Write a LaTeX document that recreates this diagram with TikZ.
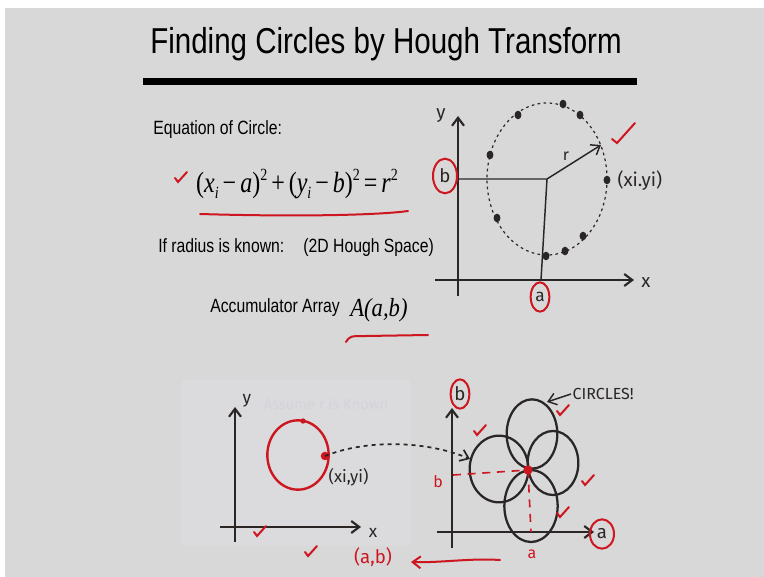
\documentclass[tikz,border=0pt]{standalone}
\usepackage{fontspec}
\setmainfont{Liberation Sans}[FakeStretch=0.82]
\newfontfamily\eqfont{Liberation Serif}
\newfontfamily\handfont{Fira Sans}
\usetikzlibrary{arrows.meta, positioning}
\definecolor{slidebg}{RGB}{216,216,216}
\definecolor{paperbg}{RGB}{219,219,221}
\definecolor{ghost}{RGB}{211,212,219}
\definecolor{ink}{RGB}{42,38,38}
\definecolor{redpen}{RGB}{205,22,32}
% handwritten check mark, #1 = lower left point
\newcommand{\tick}[1]{%
\draw[redline] #1 ++(0,-3) -- ++(3,4) -- ++(9,-10);
}

\begin{document}
\begin{tikzpicture}[
    x=0.75pt, y=-0.75pt,
    >={Straight Barb[length=6pt,width=9pt]},
    axis/.style={ink, line width=1.6pt},
    thinline/.style={ink, line width=1.1pt},
    redline/.style={redpen, line width=1.5pt, line cap=round},
    dotcircle/.style={ink, line width=0.9pt, dash pattern=on 2pt off 2.5pt},
    dashline/.style={ink, line width=1.3pt, dash pattern=on 3pt off 3pt},
    reddash/.style={redpen, line width=1.2pt, dash pattern=on 6pt off 5pt},
    flower/.style={ink, line width=1.7pt},
    hand/.style={font=\handfont\fontsize{11}{12}\selectfont, text=ink, inner sep=1pt},
    redhand/.style={font=\handfont\fontsize{11}{12}\selectfont, text=redpen, inner sep=1pt},
    body/.style={font=\fontsize{14.4}{16}\selectfont, text=black, inner sep=0pt}
]
\useasboundingbox (0,0) rectangle (764,577);
\fill[white] (0,0) rectangle (764,577);
\fill[slidebg] (5,8) rectangle (764,577);
\fill[paperbg] (182,380) rectangle (410,546);
\node[text=ghost, font=\handfont\fontsize{11}{13}\selectfont] (ghosttext) at (326,404) {Assume r is Known};

% title
\node[font=\fontsize{27}{30}\selectfont] (title) at (386,44) {Finding Circles by Hough Transform};
\fill[black] (143,78) rectangle (637,85);

% left text
\node[body, anchor=west] (eqhead) at (153,130) {Equation of Circle:};
\node[font=\eqfont\fontsize{18}{21}\selectfont, inner sep=0pt] (eqn) at (297,184)
  {\scalebox{1}[1.22]{(\textit{x}\raisebox{-0.45ex}{\fontsize{10.5}{12}\selectfont\textit{i}}\,−\,\textit{a})\raisebox{0.9ex}{\fontsize{10.5}{12}\selectfont 2}\,+\,(\textit{y}\raisebox{-0.45ex}{\fontsize{10.5}{12}\selectfont\textit{i}}\,−\,\textit{b})\raisebox{0.9ex}{\fontsize{10.5}{12}\selectfont 2}\,=\,\textit{r}\raisebox{0.9ex}{\fontsize{10.5}{12}\selectfont 2}}};
\node[body, anchor=west] (known) at (158,248) {If radius is known:\quad(2D Hough Space)};
\node[body, anchor=west] (accum) at (210,308) {Accumulator Array};
\node[font=\eqfont\itshape\fontsize{17}{20}\selectfont, inner sep=0pt, anchor=west] (accA) at (350,310) {\scalebox{1}[1.15]{A(a,b)}};
\tick{(175,181)}
\draw[redline] (200,214) .. controls (300,217) and (380,215) .. (408,211);
\draw[redline] (346,342) .. controls (350,336) .. (366,336) -- (428,335);

% top right graph
\coordinate (ybot1) at (458,296);
\coordinate (ytop1) at (458,116);
\coordinate (xl1) at (435,280);
\coordinate (xr1) at (634,280);
\coordinate (ctr1) at (547,179);
\coordinate (bfoot1) at (458,179);
\coordinate (afoot1) at (541,280);
\coordinate (rend1) at (601,145);
\draw[axis,->] (ybot1) -- (ytop1);
\draw[axis,->] (xl1) -- (xr1);
\node[hand, font=\handfont\fontsize{14}{15}\selectfont] (ylab1) at (441,116) {y};
\node[hand, font=\handfont\fontsize{14}{15}\selectfont] (xlab1) at (646,283) {x};
\draw[dotcircle] (ctr1) ellipse [x radius=45pt, y radius=57pt];
\foreach \p in {(563,104),(518,115),(580,115),(490,155),(607,180),(497,218),(583,236),(565,251),(546,256)}
  \fill[ink] \p ellipse [x radius=2.6pt, y radius=3.2pt];
\draw[thinline] (bfoot1) -- (ctr1) -- (afoot1);
\draw[thinline,->] (ctr1) -- (rend1);
\node[hand, font=\handfont\fontsize{12}{13}\selectfont] (rlab1) at (566,156) {r};
\node[hand, anchor=west, font=\handfont\fontsize{14}{15}\selectfont] (ptlab1) at (616,181) {(xi.yi)};
\draw[redline] (612,139) -- (617,143) -- (635,123);
\node[hand, font=\handfont\fontsize{14}{15}\selectfont] (blab1) at (445,176) {b};
\draw[redline] (blab1) ellipse [x radius=9pt, y radius=13pt];
\node[hand, font=\handfont\fontsize{13}{14}\selectfont] (alab1) at (540,297) {a};
\draw[redline] (alab1) ellipse [x radius=7pt, y radius=11pt];

% bottom left graph
\coordinate (ybot2) at (235,542);
\coordinate (ytop2) at (235,407);
\coordinate (xl2) at (220,527);
\coordinate (xr2) at (361,527);
\coordinate (ctr2) at (298,455);
\coordinate (pt2) at (325,456);
\draw[axis,->] (ybot2) -- (ytop2);
\draw[axis,->] (xl2) -- (xr2);
\node[hand, font=\handfont\fontsize{13}{14}\selectfont] (ylab2) at (247,401) {y};
\node[hand, font=\handfont\fontsize{13}{14}\selectfont] (xlab2) at (373,533) {x};
\draw[redpen, line width=1.8pt] (ctr2) ellipse [x radius=23pt, y radius=26pt];
\fill[redpen] (pt2) circle [radius=3.2pt];
\fill[redpen] (303,421) circle [radius=2pt];
\node[hand, anchor=west, font=\handfont\fontsize{12.5}{14}\selectfont] (ptlab2) at (327,477) {(xi,yi)};
\tick{(254,535)}
\tick{(305,555)}
\node[redhand, font=\handfont\fontsize{14}{15}\selectfont] (ablab) at (373,557) {(a,b)};

% bottom right graph
\coordinate (ybot3) at (452,548);
\coordinate (ytop3) at (452,408);
\coordinate (xl3) at (437,532);
\coordinate (xr3) at (594,532);
\coordinate (ctr3) at (528,470);
\coordinate (bfoot3) at (453,475);
\coordinate (afoot3) at (531,532);
\coordinate (arrin) at (470,459);
\draw[axis,->] (ybot3) -- (ytop3);
\draw[axis,->] (xl3) -- (xr3);
\draw[flower] (532,434) ellipse [x radius=19pt, y radius=26pt];
\draw[flower] (499,469) ellipse [x radius=22pt, y radius=25pt];
\draw[flower] (553,463) ellipse [x radius=19pt, y radius=24pt];
\draw[flower] (531,506) ellipse [x radius=20pt, y radius=27pt];
\draw[reddash] (bfoot3) -- (ctr3);
\draw[reddash] (ctr3) -- (afoot3);
\fill[redpen] (ctr3) circle [radius=3.5pt];
\node[hand, font=\handfont\fontsize{14}{15}\selectfont] (blab3) at (460,394) {b};
\draw[redline] (blab3) ellipse [x radius=7pt, y radius=11pt];
\node[hand, font=\handfont\fontsize{14}{15}\selectfont] (alab3) at (602,534) {a};
\draw[redline] (alab3) ellipse [x radius=9pt, y radius=11pt];
\node[redhand, font=\handfont\fontsize{12}{13}\selectfont] (bmark3) at (438,482) {b};
\node[redhand, font=\handfont\fontsize{12}{13}\selectfont] (amark3) at (532,554) {a};
\node[hand, anchor=west, font=\handfont\fontsize{12}{13}\selectfont] (circlab) at (571,394) {CIRCLES!};
\draw[thinline,->] (circlab.west) -- (547,402);
\tick{(474,434)}
\tick{(557,414)}
\tick{(582,484)}
\tick{(557,516)}

% transfer arrows
\draw[dashline,->] (pt2) .. controls (370,438) and (430,442) .. (arrin);
\coordinate (redfrom) at (500,560);
\coordinate (redto) at (411,562);
\draw[redline,->] (redfrom) .. controls (470,558) and (440,563) .. (redto);
\end{tikzpicture}
\end{document}
